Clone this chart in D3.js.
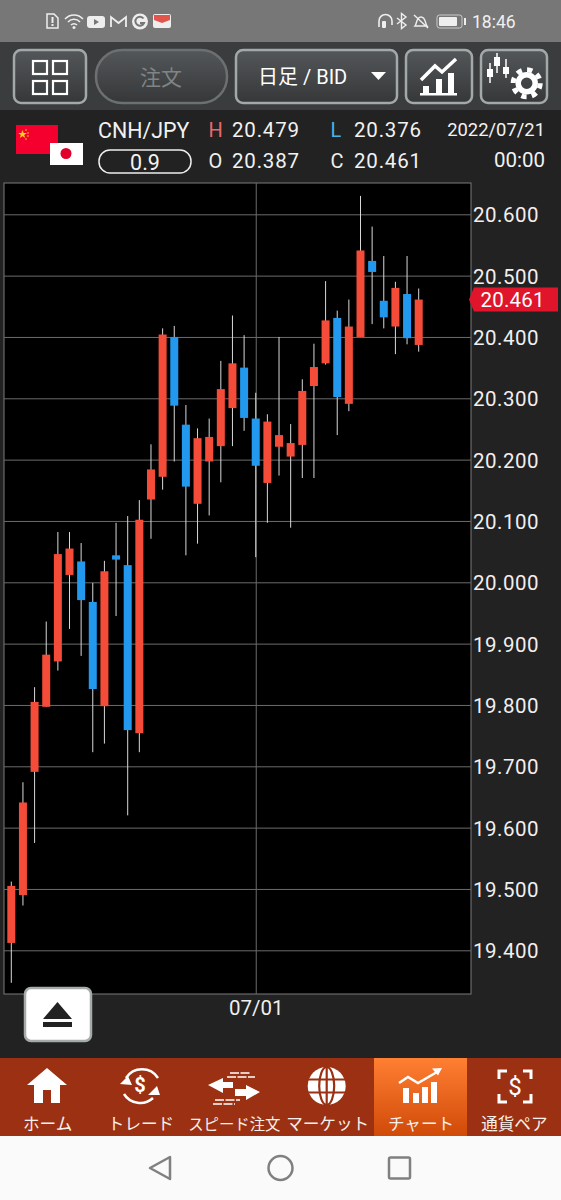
<!DOCTYPE html>
<html>
<head>
<meta charset="utf-8">
<script src="https://cdn.jsdelivr.net/npm/d3@7"></script>
<style>
  body { margin: 0; background: #222; }
  svg { display: block; }
  text { font-family: Roboto, "Noto Sans CJK JP", sans-serif; }
</style>
</head>
<body>
<div id="chart"></div>
<script>
// candle values, oldest first
var opens  = [19.412,19.490,19.691,19.797,19.871,20.012,20.034,19.968,19.798,20.044,20.028,19.754,
              20.135,20.172,20.400,20.257,20.128,20.197,20.222,20.284,20.350,20.267,20.162,20.221,
              20.205,20.224,20.320,20.357,20.431,20.291,20.400,20.524,20.459,20.417,20.470,20.387];
var closes = [19.505,19.641,19.805,19.882,20.046,20.055,19.971,19.826,20.018,20.037,19.759,20.102,
              20.184,20.404,20.288,20.156,20.235,20.237,20.315,20.357,20.268,20.190,20.262,20.240,
              20.227,20.312,20.351,20.427,20.302,20.417,20.541,20.506,20.432,20.480,20.398,20.461];
var highs  = [19.512,19.674,19.829,19.936,20.082,20.082,20.064,19.999,20.035,20.097,20.108,20.134,
              20.225,20.414,20.418,20.289,20.251,20.267,20.361,20.435,20.403,20.309,20.274,20.400,
              20.258,20.331,20.389,20.491,20.443,20.461,20.630,20.580,20.532,20.490,20.532,20.479];
var lows   = [19.347,19.473,19.575,19.797,19.856,19.924,19.880,19.723,19.737,19.945,19.620,19.723,
              20.071,20.151,20.197,20.044,20.063,20.109,20.163,20.222,20.247,20.041,20.097,20.174,
              20.089,20.170,20.170,20.355,20.240,20.279,20.400,20.421,20.414,20.372,20.388,20.376];
var priceTicks = [19.4,19.5,19.6,19.7,19.8,19.9,20.0,20.1,20.2,20.3,20.4,20.5,20.6];
var dateIndex = 21;
var dateLabel = "07/01";
var lastPrice = 20.461;
var navLabels = ["ホーム","トレード","スピード注文","マーケット","チャート","通貨ペア"];

var svg = d3.select("#chart").append("svg")
    .attr("width", 561)
    .attr("height", 1200);
var defs = svg.append("defs");

function gradient(id, from, to) {
  var g = defs.append("linearGradient").attr("id", id).attr("x2", 0).attr("y2", 1);
  g.append("stop").attr("offset", 0).attr("stop-color", from);
  g.append("stop").attr("offset", 1).attr("stop-color", to);
}
gradient("btn", "#545759", "#353739");
gradient("tab", "#ff7f33", "#d04a08");

// screen blocks
svg.append("rect").attr("width", 561).attr("height", 1200).attr("fill", "#222222");
svg.append("rect").attr("width", 561).attr("height", 42).attr("fill", "#777777");
svg.append("rect").attr("y", 42).attr("width", 561).attr("height", 68).attr("fill", "#3a3c3e");
svg.append("rect").attr("y", 1058).attr("width", 561).attr("height", 78).attr("fill", "#9c3012");
svg.append("rect").attr("x", 374).attr("y", 1058).attr("width", 93).attr("height", 78).attr("fill", "url(#tab)");
svg.append("rect").attr("y", 1136).attr("width", 561).attr("height", 64).attr("fill", "#fafafa");

function txt(x, y, s, size, fill, anchor) {
  return svg.append("text").attr("x", x).attr("y", y).attr("font-size", size)
    .attr("fill", fill).attr("text-anchor", anchor || "start").text(s);
}

// status bar
txt(472, 28, "18:46", 17.5, "#f0f0f0");
var st = svg.append("g").attr("fill", "#eee").attr("stroke", "none");
st.append("path").attr("d", "M47 14h7l4 4v10h-11z").attr("fill", "none").attr("stroke", "#eee").attr("stroke-width", 1.5);
st.append("rect").attr("x", 51.500).attr("y", 17).attr("width", 2).attr("height", 6);
st.append("rect").attr("x", 51.500).attr("y", 24).attr("width", 2).attr("height", 2);
st.append("path").attr("d", "M65 19a12 12 0 0 1 18 0M68 22a8 8 0 0 1 12 0M71 25a4 4 0 0 1 6 0")
  .attr("fill", "none").attr("stroke", "#eee").attr("stroke-width", 1.5);
st.append("circle").attr("cx", 74).attr("cy", 27.500).attr("r", 1.5);
st.append("rect").attr("x", 87).attr("y", 16).attr("width", 18).attr("height", 12).attr("rx", 3);
st.append("path").attr("d", "M94 19l5 3-5 3z").attr("fill", "#777");
st.append("path").attr("d", "M111 27v-10l7.500 6 7.500-6v10").attr("fill", "none").attr("stroke", "#eee").attr("stroke-width", 1.8);
st.append("circle").attr("cx", 140).attr("cy", 21.500).attr("r", 8);
st.append("path").attr("d", "M143.500 18.500a4.500 4.500 0 1 0 .5 4.500h-4").attr("fill", "none").attr("stroke", "#777").attr("stroke-width", 2);
st.append("rect").attr("x", 153).attr("y", 14).attr("width", 18).attr("height", 14).attr("rx", 2);
st.append("path").attr("d", "M154 15h16v5l-8 3-8-3z").attr("fill", "#e2554c");
st.append("path").attr("d", "M379 27v-6a6.500 6.500 0 0 1 13 0v4").attr("fill", "none").attr("stroke", "#eee").attr("stroke-width", 1.6);
st.append("rect").attr("x", 382).attr("y", 21).attr("width", 4).attr("height", 7).attr("rx", 1);
st.append("path").attr("d", "M397 18l9 7-4.500 3.500v-15l4.500 3.500-9 7").attr("fill", "none").attr("stroke", "#eee").attr("stroke-width", 1.4);
st.append("path").attr("d", "M415 26c2-2 1-9 6-9s4 7 6 9zM414 15l14 13").attr("fill", "none").attr("stroke", "#eee").attr("stroke-width", 1.4);
st.append("rect").attr("x", 437).attr("y", 15).attr("width", 25).attr("height", 13).attr("rx", 2.5)
  .attr("fill", "none").attr("stroke", "#ccc");
st.append("rect").attr("x", 439).attr("y", 17).attr("width", 18).attr("height", 9).attr("rx", 1);
st.append("rect").attr("x", 464).attr("y", 18).attr("width", 2).attr("height", 7);

// toolbar buttons
function button(x, w, rx, stroke) {
  svg.append("rect").attr("x", x).attr("y", 50).attr("width", w).attr("height", 53).attr("rx", rx)
    .attr("fill", "url(#btn)").attr("stroke", stroke).attr("stroke-width", 2.5);
}
button(14, 72, 7, "#a3a8a8");
button(96, 131, 26, "#6c7070");
button(236, 161, 7, "#a3a8a8");
button(406, 66, 7, "#a3a8a8");
button(481, 66, 7, "#a3a8a8");
[[33,61],[53,61],[33,81],[53,81]].forEach(function(p) {
  svg.append("rect").attr("x", p[0]).attr("y", p[1]).attr("width", 14).attr("height", 13)
    .attr("fill", "none").attr("stroke", "#fff").attr("stroke-width", 2.2);
});
txt(161, 85, "注文", 21, "#808484", "middle");
txt(258, 84, "日足 / BID", 20, "#ffffff");
svg.append("path").attr("d", "M371 72h15l-7.500 8z").attr("fill", "#fff");

// line-and-bars icon
svg.append("path").attr("d", "M421 80l14-14 7 6 14-13").attr("fill", "none").attr("stroke", "#fff").attr("stroke-width", 3.5);
svg.append("rect").attr("x", 420).attr("y", 93).attr("width", 37).attr("height", 2.5).attr("fill", "#fff");
[[423,86],[436,79],[448,73]].forEach(function(p) {
  svg.append("rect").attr("x", p[0]).attr("y", p[1]).attr("width", 6).attr("height", 94 - p[1]).attr("fill", "#fff");
});

// candles-and-gear icon
[[490,63,83,69,8],[497,53,73,57,9],[506,59,78,67,7]].forEach(function(p) {
  svg.append("line").attr("x1", p[0]).attr("x2", p[0]).attr("y1", p[1]).attr("y2", p[2])
    .attr("stroke", "#fff").attr("stroke-width", 1.5);
  svg.append("rect").attr("x", p[0] - 3).attr("y", p[3]).attr("width", 6).attr("height", p[4]).attr("fill", "#fff");
});
svg.append("circle").attr("cx", 526.700).attr("cy", 83.300).attr("r", 8.500)
  .attr("fill", "none").attr("stroke", "#fff").attr("stroke-width", 5.500);
svg.append("circle").attr("cx", 526.700).attr("cy", 83.300).attr("r", 13.500)
  .attr("fill", "none").attr("stroke", "#fff").attr("stroke-width", 5)
  .attr("stroke-dasharray", "5.300 5.300");

// quote header
svg.append("rect").attr("x", 16).attr("y", 125).attr("width", 42).attr("height", 29).attr("fill", "#f5002e");
txt(18, 137, "★", 9, "#ffd21e");
[[26,130],[28,133],[28,136],[26,139]].forEach(function(p) {
  svg.append("circle").attr("cx", p[0]).attr("cy", p[1]).attr("r", 0.8).attr("fill", "#ffd21e");
});
svg.append("rect").attr("x", 50).attr("y", 143).attr("width", 33).attr("height", 22).attr("fill", "#ffffff");
svg.append("circle").attr("cx", 66).attr("cy", 153.500).attr("r", 5.500).attr("fill", "#e0002b");
txt(98, 138, "CNH/JPY", 21.4, "#f2f2f2");
svg.append("rect").attr("x", 99).attr("y", 150).attr("width", 92).attr("height", 23).attr("rx", 11)
  .attr("fill", "none").attr("stroke", "#eee").attr("stroke-width", 1.5);
txt(145, 169.500, "0.9", 21.5, "#f2f2f2", "middle");

function quote(x, y, label, labelFill, value) {
  txt(x, y, label, 20, labelFill);
  txt(x + 23.500, y, value, 20.5, "#f2f2f2").attr("letter-spacing", 0.8);
}
quote(208.500, 137, "H", "#e86a6a", "20.479");
quote(208.500, 168, "O", "#eeeeee", "20.387");
quote(330.500, 137, "L", "#47b4e8", "20.376");
quote(330.500, 168, "C", "#eeeeee", "20.461");
txt(545, 136, "2022/07/21", 18.4, "#f2f2f2", "end");
txt(545, 167, "00:00", 20.5, "#f2f2f2", "end");

// plot area
var plot = { left: 4, right: 471, top: 183, bottom: 994 };
var x = d3.scaleLinear().domain([0, opens.length - 1]).range([11.3, 418.7]);
var y = d3.scaleLinear().domain([19.4, 20.6]).range([950.3, 214.3]);

svg.append("rect").attr("x", plot.left).attr("y", plot.top)
  .attr("width", plot.right - plot.left).attr("height", plot.bottom - plot.top)
  .attr("fill", "#000").attr("stroke", "#7a7a7a").attr("stroke-width", 1);

var yAxis = d3.axisRight(y)
  .tickValues(priceTicks)
  .tickSize(plot.right - plot.left)
  .tickPadding(2)
  .tickFormat(d3.format(".3f"));
var yG = svg.append("g").attr("transform", "translate(" + plot.left + ",0)").call(yAxis);
yG.select(".domain").remove();
yG.selectAll("line").attr("stroke", "#6b6b6b").attr("stroke-width", 1);
yG.selectAll("text").attr("fill", "#f0f0f0").attr("font-size", 20.5)
  .attr("letter-spacing", 0.5).attr("dy", "0.36em")
  .attr("font-family", "Roboto, sans-serif");

var xAxis = d3.axisBottom(x)
  .tickValues([dateIndex])
  .tickSize(plot.bottom - plot.top)
  .tickPadding(6)
  .tickFormat(function() { return dateLabel; });
var xG = svg.append("g").attr("transform", "translate(0," + plot.top + ")").call(xAxis);
xG.select(".domain").remove();
xG.selectAll("line").attr("stroke", "#6b6b6b").attr("stroke-width", 1);
xG.selectAll("text").attr("fill", "#f0f0f0").attr("font-size", 20.5)
  .attr("font-family", "Roboto, sans-serif");

// candles
var candles = svg.append("g").selectAll("g")
  .data(d3.range(opens.length))
  .enter().append("g");
candles.append("line")
  .attr("x1", function(i) { return x(i); })
  .attr("x2", function(i) { return x(i); })
  .attr("y1", function(i) { return y(highs[i]); })
  .attr("y2", function(i) { return y(lows[i]); })
  .attr("stroke", "#d8d8d8")
  .attr("stroke-width", 1);
candles.append("rect")
  .attr("x", function(i) { return x(i) - 4; })
  .attr("y", function(i) { return y(Math.max(opens[i], closes[i])); })
  .attr("width", 8)
  .attr("height", function(i) { return Math.abs(y(opens[i]) - y(closes[i])); })
  .attr("fill", function(i) { return closes[i] >= opens[i] ? "#f44c38" : "#2299ee"; });

// last price tag
var tagY = y(lastPrice);
svg.append("path")
  .attr("d", "M469 " + tagY + "l5 -12h84v24h-84z")
  .attr("fill", "#e0142a");
txt(480.500, tagY + 7.500, d3.format(".3f")(lastPrice), 20.5, "#ffffff").attr("letter-spacing", 0.2);

// eject button
svg.append("rect").attr("x", 25).attr("y", 988).attr("width", 66).attr("height", 53).attr("rx", 6)
  .attr("fill", "#fff").attr("stroke", "#a5aaaa").attr("stroke-width", 2.5);
svg.append("path").attr("d", "M43 1019l14.500-17 14.500 17z").attr("fill", "#222");
svg.append("rect").attr("x", 43).attr("y", 1022).attr("width", 29).attr("height", 5).attr("fill", "#222");

// bottom nav
var navX = d3.scaleBand().domain(navLabels).range([1, 561]);
navLabels.forEach(function(label) {
  var lx = navX(label) + navX.bandwidth() / 2;
  txt(lx, 1130, label, label.length > 5 ? 15.4 : 16.6, "#f6f0ec", "middle");
});
var ic = svg.append("g").attr("fill", "#fff");
// home
ic.append("path").attr("d", "M47 1068l20 17h-7v18h-9v-13h-8v13h-9v-18h-7z");
// trade
ic.append("text").attr("x", 140).attr("y", 1092).attr("font-size", 20).attr("font-weight", 700)
  .attr("text-anchor", "middle").text("$");
ic.append("path").attr("d", "M126 1078a19 19 0 0 1 32 0M124 1094a19 19 0 0 0 29 4")
  .attr("fill", "none").attr("stroke", "#fff").attr("stroke-width", 2.5);
ic.append("path").attr("d", "M120 1084l8-8 4 9zM160 1095h-12l9-9z");
// speed order
ic.append("path").attr("d", "M208 1085l15-7v4h10v6h-10v5z");
ic.append("path").attr("d", "M260 1092l-14-7v4h-11v7h11v4z");
ic.append("path").attr("d", "M230 1073h20M227 1077h28M215 1100h25M213 1104h22")
  .attr("stroke", "#fff").attr("stroke-width", 1.3).attr("stroke-dasharray", "9 1.500");
// market
ic.append("circle").attr("cx", 326.700).attr("cy", 1086).attr("r", 19);
ic.append("ellipse").attr("cx", 326.700).attr("cy", 1086).attr("rx", 7.500).attr("ry", 19)
  .attr("fill", "none").attr("stroke", "#9c3012").attr("stroke-width", 2.2);
ic.append("path").attr("d", "M326.700 1066v40M307 1079.500h40M307 1092.500h40").attr("stroke", "#9c3012").attr("stroke-width", 2.2);
// chart tab
ic.append("path").attr("d", "M399 1083l9-6 10 6 19-11").attr("fill", "none").attr("stroke", "#fff").attr("stroke-width", 2.5);
ic.append("path").attr("d", "M442 1068l-10 .5 6 7z");
[[403,1088],[413,1093],[422,1087],[431,1082]].forEach(function(p) {
  ic.append("rect").attr("x", p[0]).attr("y", p[1]).attr("width", 6).attr("height", 1103 - p[1]);
});
// currency pair
ic.append("path").attr("d", "M499 1079v-8h8M523 1071h8v8M531 1094v8h-8M507 1102h-8v-8").attr("fill", "none").attr("stroke", "#fff").attr("stroke-width", 3);
ic.append("text").attr("x", 515).attr("y", 1095).attr("font-size", 24).attr("text-anchor", "middle").text("$");

// android buttons
var sysBar = svg.append("g").attr("fill", "none").attr("stroke", "#808080").attr("stroke-width", 2.5);
sysBar.append("path").attr("d", "M170 1157v22l-20-11z").attr("stroke-linejoin", "round");
sysBar.append("circle").attr("cx", 280.500).attr("cy", 1168).attr("r", 12);
sysBar.append("rect").attr("x", 389).attr("y", 1157.500).attr("width", 21).attr("height", 21).attr("rx", 1.5);
</script>
</body>
</html>
